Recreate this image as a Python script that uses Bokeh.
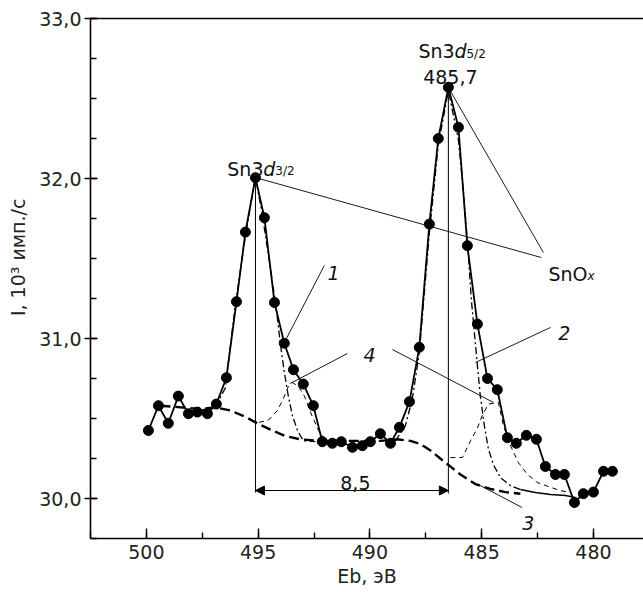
from bokeh.plotting import figure
from bokeh.models import (Range1d, FixedTicker, CustomJSTickFormatter, LinearAxis,
                          Label, Arrow, NormalHead, ColumnDataSource)
from bokeh.embed import file_html
from bokeh.resources import INLINE

# ---------------- data ----------------
energy = [499.91, 499.46, 499.02, 498.57, 498.12, 497.72, 497.27, 496.87, 496.42, 495.97,
          495.57, 495.12, 494.72, 494.27, 493.83, 493.42, 492.98, 492.53, 492.13, 491.68,
          491.28, 490.78, 490.34, 489.98, 489.53, 489.08, 488.68, 488.23, 487.79, 487.34,
          486.94, 486.49, 486.04, 485.64, 485.19, 484.74, 484.30, 483.85, 483.45, 483.00,
          482.55, 482.15, 481.70, 481.30, 480.85, 480.45, 480.00, 479.55, 479.15]
intensity = [30.425, 30.58, 30.47, 30.64, 30.53, 30.54, 30.53, 30.59, 30.755, 31.23,
             31.665, 32.005, 31.755, 31.225, 30.97, 30.805, 30.715, 30.58, 30.355, 30.345,
             30.355, 30.32, 30.33, 30.355, 30.405, 30.345, 30.445, 30.605, 30.945, 31.715,
             32.25, 32.57, 32.32, 31.58, 31.09, 30.75, 30.68, 30.38, 30.345, 30.395,
             30.37, 30.20, 30.15, 30.15, 29.975, 30.03, 30.04, 30.17, 30.17]

# curve 3: background
bg_x = [499.37, 498.48, 497.58, 496.91, 496.24, 495.57, 495.03, 494.45, 493.78, 493.11,
        492.21, 491.32, 490.43, 489.53, 488.77, 488.19, 487.74, 487.29, 486.85, 486.49,
        485.95, 485.28, 484.61, 483.94, 483.27]
bg_y = [30.58, 30.57, 30.56, 30.57, 30.55, 30.51, 30.47, 30.43, 30.39, 30.37,
        30.36, 30.36, 30.36, 30.36, 30.37, 30.36, 30.34, 30.30, 30.25, 30.21,
        30.15, 30.09, 30.06, 30.04, 30.03]

# curve 1: Sn3d3/2 component (dash-dot)
c1_x = [497.58, 496.91, 496.47, 496.02, 495.57, 495.12, 494.81, 494.45, 494.18, 494.00,
        493.83, 493.65, 493.47, 493.24, 492.98, 492.44]
c1_y = [30.55, 30.575, 30.69, 31.21, 31.64, 32.01, 31.77, 31.44, 31.175, 30.96,
        30.79, 30.64, 30.52, 30.425, 30.36, 30.356]

# curve 4 (3d3/2 part): thin dashed
c4a_x = [495.35, 494.99, 494.54, 494.14, 493.87, 493.65, 493.47, 493.20, 492.93, 492.66,
         492.30, 491.99, 491.54]
c4a_y = [30.49, 30.475, 30.49, 30.55, 30.625, 30.70, 30.725, 30.70, 30.64, 30.54,
         30.425, 30.37, 30.356]

# curve 2: Sn3d5/2 component (dash-dot)
c2_x = [488.86, 488.41, 488.10, 487.79, 487.34, 486.94, 486.49, 486.31, 486.04, 485.82,
        485.64, 485.46, 485.23, 485.06, 484.88, 484.70, 484.47, 484.16, 483.71, 483.27]
c2_y = [30.36, 30.456, 30.625, 30.91, 31.66, 32.21, 32.55, 32.425, 32.24, 31.925,
        31.61, 31.24, 30.89, 30.64, 30.456, 30.31, 30.21, 30.13, 30.08, 30.056]

# solid tail of the fitted envelope
tail_x = [483.27, 482.60, 481.92, 481.25, 480.81]
tail_y = [30.056, 30.0375, 30.025, 30.019, 30.006]

# curve 4 (3d5/2 part): thin dashed
c4b_x = [486.40, 485.86, 485.50, 485.19, 484.97, 484.70, 484.25, 484.03, 483.71, 483.36,
         482.95, 482.51, 481.92, 481.48, 481.03]
c4b_y = [30.256, 30.256, 30.36, 30.44, 30.52, 30.59, 30.60, 30.456, 30.33, 30.225,
         30.15, 30.10, 30.07, 30.05, 30.0375]

x_ticks = [480, 485, 490, 495, 500]
x_minor = [477.5, 480, 482.5, 485, 487.5, 490, 492.5, 495, 497.5, 500, 502.5]
y_ticks = [30, 31, 32, 33]
y_minor = [29.75, 30, 30.25, 30.5, 30.75, 31, 31.25, 31.5, 31.75, 32, 32.25, 32.5, 32.75, 33]

x_title = "Eb, эВ"
y_title = "\u00a0" * 7 + "I, 10³ имп./с"

FONT = "DejaVu Sans"

p = figure(width=643, height=592, output_backend="svg", toolbar_location=None,
           x_range=Range1d(502.5, 477.76), y_range=Range1d(29.75, 33.0),
           min_border_left=90, min_border_right=0, min_border_top=18, min_border_bottom=54)
p.outline_line_color = None
p.xgrid.visible = False
p.ygrid.visible = False
p.background_fill_color = "white"
p.border_fill_color = "white"

# axes
xa = p.xaxis[0]
xa.ticker = FixedTicker(ticks=x_ticks, minor_ticks=x_minor)
xa.major_tick_in = 10
xa.major_tick_out = 0
xa.minor_tick_in = 6
xa.minor_tick_out = 0
xa.axis_line_width = 1.6
xa.major_tick_line_width = 1.4
xa.minor_tick_line_width = 1.4
xa.major_label_text_font = FONT
xa.major_label_text_font_size = "19px"
xa.major_label_standoff = 6
xa.major_label_text_color = "#222222"
xa.axis_label = x_title
xa.axis_label_text_font = FONT
xa.axis_label_text_font_size = "19px"
xa.axis_label_text_font_style = "normal"
xa.axis_label_standoff = 3
xa.axis_label_text_color = "#222222"

ya = p.yaxis[0]
ya.ticker = FixedTicker(ticks=y_ticks, minor_ticks=y_minor)
ya.formatter = CustomJSTickFormatter(code="return tick.toFixed(1).replace('.', ',');")
ya.major_tick_in = 7
ya.major_tick_out = 6
ya.minor_tick_in = 6
ya.minor_tick_out = 0
ya.axis_line_width = 1.6
ya.major_tick_line_width = 1.4
ya.minor_tick_line_width = 1.4
ya.major_label_text_font = FONT
ya.major_label_text_font_size = "19px"
ya.major_label_standoff = 3
ya.major_label_text_color = "#222222"
ya.axis_label = y_title
ya.axis_label_text_font = FONT
ya.axis_label_text_font_size = "19px"
ya.axis_label_text_font_style = "normal"
ya.axis_label_standoff = 7
ya.axis_label_text_color = "#222222"

top = LinearAxis(ticker=FixedTicker(ticks=[]), major_label_text_font_size="0px",
                 major_tick_in=0, major_tick_out=0, minor_tick_in=0, minor_tick_out=0,
                 axis_line_width=1.6)
p.add_layout(top, "above")

# curves
p.line(bg_x, bg_y, line_color="black", line_width=2.4, line_dash="10 5")
p.line(c1_x, c1_y, line_color="black", line_width=1.3, line_dash="7 3 2 3")
p.line(c2_x, c2_y, line_color="black", line_width=1.3, line_dash="7 3 2 3")
p.line(tail_x, tail_y, line_color="black", line_width=1.5)
p.line(c4a_x, c4a_y, line_color="black", line_width=1.0, line_dash="5 4")
p.line(c4b_x, c4b_y, line_color="black", line_width=1.0, line_dash="5 4")

src = ColumnDataSource(data=dict(x=energy, y=intensity))
p.line("x", "y", source=src, line_color="black", line_width=1.8)
p.scatter("x", "y", source=src, size=10, marker="circle", fill_color="black", line_color="black")

# vertical lines at the peaks
p.segment(x0=[495.12, 486.49], y0=[30.0375, 30.031], x1=[495.12, 486.49], y1=[32.0, 32.57],
          line_color="black", line_width=1.0)

# leader lines
lead_x0 = [495.12, 486.49, 492.04, 481.92, 491.01, 488.99, 483.20]
lead_y0 = [32.006, 32.569, 31.456, 31.069, 30.906, 30.931, 29.944]
lead_x1 = [482.33, 482.24, 493.78, 485.28, 493.56, 484.47, 485.15]
lead_y1 = [31.506, 31.5375, 30.9875, 30.85, 30.719, 30.60, 30.0875]
p.segment(x0=lead_x0, y0=lead_y0, x1=lead_x1, y1=lead_y1, line_color="black", line_width=0.9)

# double arrow 8,5
p.add_layout(Arrow(start=NormalHead(size=9, fill_color="black", line_color="black", line_width=1),
                   end=NormalHead(size=9, fill_color="black", line_color="black", line_width=1),
                   x_start=495.12, y_start=30.05, x_end=486.49, y_end=30.05,
                   line_color="black", line_width=1.0))


def lab(x, y, text, size=19, style="normal", align="left"):
    p.add_layout(Label(x=x, y=y, text=text, text_font=FONT, text_font_size=f"{size}px",
                       text_font_style=style, text_align=align, text_baseline="alphabetic",
                       text_color="#111111"))


# peak labels
lab(496.38, 32.0625, "Sn3")
lab(494.77, 32.0625, "d", style="italic")
lab(494.23, 32.044, "3/2", size=12)

lab(487.83, 32.80, "Sn3")
lab(486.22, 32.80, "d", style="italic")
lab(485.68, 32.78, "5/2", size=12)
lab(486.40, 32.6375, "485,7", align="center")

lab(482.01, 31.406, "SnO")
lab(480.27, 31.39, "x", size=12, style="italic")

lab(491.90, 31.4125, "1", style="italic")
lab(481.57, 31.0375, "2", style="italic")
lab(490.29, 30.894, "4", style="italic")
lab(483.18, 29.85, "3", style="italic")
lab(490.65, 30.10, "8,5", align="center")

open("out.html", "w").write(file_html(p, INLINE))
